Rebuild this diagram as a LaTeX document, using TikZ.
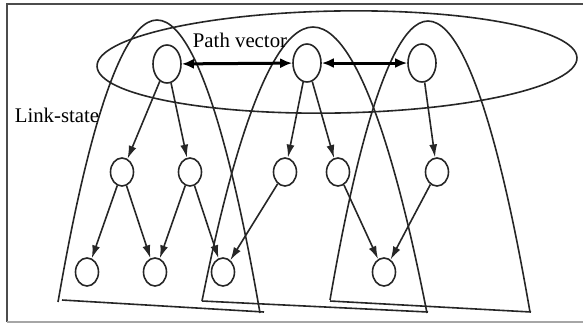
\documentclass[tikz,border=0pt]{standalone}
\usepackage{fontspec}
\setmainfont{Liberation Serif}
\usetikzlibrary{arrows.meta,shapes.geometric}
\begin{document}
\begin{tikzpicture}[x=0.5pt,y=-0.5pt,
  ln/.style={line width=0.8pt, draw=black!85},
  nd/.style={ellipse, draw=black!85, line width=0.8pt, inner sep=0pt},
  topnode/.style={nd, minimum width=14pt, minimum height=19pt},
  lownode/.style={nd, minimum width=11.5pt, minimum height=14pt},
  arr/.style={ln, -{Latex[length=6.5pt,width=4pt]}},
  dbl/.style={line width=1.5pt, draw=black, {Latex[length=6pt,width=5pt]}-{Latex[length=6pt,width=5pt]}},
  lbl/.style={font=\fontsize{10.4}{12}\selectfont, inner sep=0pt}
]
\useasboundingbox (0,0) rectangle (583,323);
% frame
\draw[draw=black!70, line width=1pt] (7,322) -- (7,4) -- (583,4);
\draw[draw=black!35, line width=1pt] (7,322) -- (583,322);

% top nodes
\node[topnode] (A) at (167,64) {};
\node[topnode] (B) at (307,63) {};
\node[topnode] (C) at (422,63) {};
% middle nodes
\node[lownode] (m1) at (122,172) {};
\node[lownode] (m2) at (190,172) {};
\node[lownode] (m3) at (285,172) {};
\node[lownode] (m4) at (338,172) {};
\node[lownode] (m5) at (437,172) {};
% bottom nodes
\node[lownode] (b1) at (87,272) {};
\node[lownode] (b2) at (155,272) {};
\node[lownode] (b3) at (223,272) {};
\node[lownode] (b4) at (384,272) {};

% path vector ellipse
\draw[ln, rotate around={1:(337,62)}] (337,62) ellipse [x radius=240, y radius=51];

% link-state arches
\draw[ln] (58,302) parabola bend (157,20) (260,313);
\draw[ln] (62,300) -- (264,312);
\draw[ln] (202,301) parabola bend (313,27) (427,313);
\draw[ln] (202,301) -- (428,312);
\draw[ln] (330,300) parabola bend (428,21) (530,312);
\draw[ln] (330,301) -- (531,312);

% arrows
\draw[dbl] (A) -- (B);
\draw[dbl] (B) -- (C);
\draw[arr] (A) -- (m1);
\draw[arr] (A) -- (m2);
\draw[arr] (B) -- (m3);
\draw[arr] (B) -- (m4);
\draw[arr] (C) -- (m5);
\draw[arr] (m1) -- (b1);
\draw[arr] (m1) -- (b2);
\draw[arr] (m2) -- (b2);
\draw[arr] (m2) -- (b3);
\draw[arr] (m3) -- (b3);
\draw[arr] (m4) -- (b4);
\draw[arr] (m5) -- (b4);

% labels
\node[lbl] (pv) at (240,40) {Path vector};
\node[lbl] (ls) at (57,115) {Link-state};
\end{tikzpicture}
\end{document}
